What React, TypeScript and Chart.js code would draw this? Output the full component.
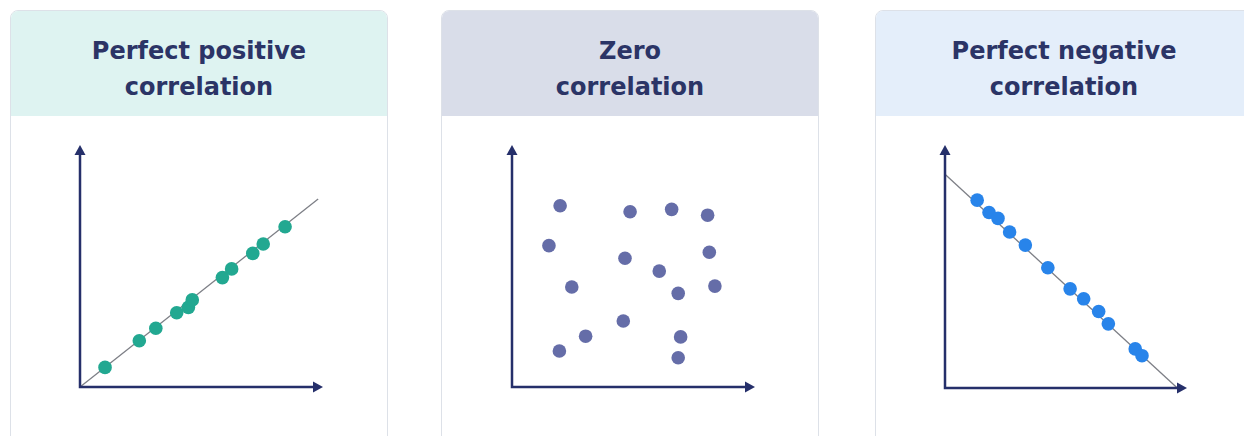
import React, { useEffect, useRef } from "react";
import { Chart, registerables } from "chart.js";
Chart.register(...registerables);

// ---- data (arbitrary units, origin at 0,0; axes run 0..10) ----
const titlesPositive = ["Perfect positive", "correlation"];
const titlesZero = ["Zero", "correlation"];
const titlesNegative = ["Perfect negative", "correlation"];

const positiveX = [1.03, 2.44, 3.12, 3.98, 4.46, 4.62, 5.86, 6.24, 7.11, 7.54, 8.44];
const positiveY = [0.81, 1.91, 2.43, 3.07, 3.29, 3.6, 4.52, 4.88, 5.52, 5.91, 6.62];
const positiveFitX = [0, 9.8];
const positiveFitY = [0, 7.77];

const zeroX = [1.98, 4.86, 6.57, 8.05, 1.52, 4.65, 8.12, 6.06, 2.46, 6.84, 8.35, 4.58, 3.03, 6.94, 1.95, 6.84];
const zeroY = [7.49, 7.24, 7.34, 7.1, 5.84, 5.32, 5.57, 4.79, 4.13, 3.87, 4.17, 2.73, 2.1, 2.07, 1.49, 1.21];

const negativeX = [1.33, 1.82, 2.19, 2.67, 3.32, 4.25, 5.17, 5.73, 6.35, 6.75, 7.86, 8.14];
const negativeY = [7.73, 7.22, 6.98, 6.42, 5.88, 4.95, 4.08, 3.67, 3.15, 2.64, 1.61, 1.33];
const negativeFitX = [0, 9.6];
const negativeFitY = [8.8, 0];

const axisMin = 0;
const axisMax = 10;

// ---- styles ----
const NAVY = "#252f6a";
const TITLE = "#2b3466";
const BORDER = "#dde1e8";

const arrowAxes = {
  id: "arrowAxes",
  afterDatasetsDraw(chart: any) {
    const { ctx, scales } = chart;
    const x = scales.x;
    const y = scales.y;
    const x0 = x.getPixelForValue(axisMin);
    const x1 = x.getPixelForValue(axisMax);
    const y0 = y.getPixelForValue(axisMin);
    const y1 = y.getPixelForValue(axisMax);
    ctx.save();
    ctx.strokeStyle = NAVY;
    ctx.fillStyle = NAVY;
    ctx.lineWidth = 2.5;
    ctx.lineJoin = "miter";
    ctx.lineCap = "butt";
    ctx.beginPath();
    ctx.moveTo(x0, y1 + 8);
    ctx.lineTo(x0, y0);
    ctx.lineTo(x1 - 8, y0);
    ctx.stroke();
    // y arrow head
    ctx.beginPath();
    ctx.moveTo(x0, y1);
    ctx.lineTo(x0 - 5.5, y1 + 10);
    ctx.lineTo(x0 + 5.5, y1 + 10);
    ctx.closePath();
    ctx.fill();
    // x arrow head
    ctx.beginPath();
    ctx.moveTo(x1, y0);
    ctx.lineTo(x1 - 10, y0 - 5.5);
    ctx.lineTo(x1 - 10, y0 + 5.5);
    ctx.closePath();
    ctx.fill();
    ctx.restore();
  },
};

type PanelProps = {
  left: number;
  width: number;
  headerBg: string;
  title: string[];
  xs: number[];
  ys: number[];
  color: string;
  fitX?: number[];
  fitY?: number[];
  canvasLeft: number;
  canvasTop: number;
  pad: { left: number; top: number; right: number; bottom: number };
};

function ScatterPanel(p: PanelProps) {
  const ref = useRef<HTMLCanvasElement>(null);
  useEffect(() => {
    if (!ref.current) return;
    const datasets: any[] = [
      {
        type: "scatter",
        data: p.xs.map((x, i) => ({ x, y: p.ys[i] })),
        pointRadius: 6.8,
        pointHoverRadius: 6.8,
        backgroundColor: p.color,
        borderWidth: 0,
        clip: false,
        order: 1,
      },
    ];
    if (p.fitX && p.fitY) {
      datasets.push({
        type: "scatter",
        showLine: true,
        data: p.fitX.map((x, i) => ({ x, y: p.fitY![i] })),
        borderColor: "#7d7f86",
        borderWidth: 1.3,
        pointRadius: 0,
        clip: false,
        order: 2,
      });
    }
    const chart = new Chart(ref.current, {
      type: "scatter",
      data: { datasets },
      options: {
        responsive: false,
        maintainAspectRatio: false,
        animation: false,
        events: [],
        layout: { padding: p.pad },
        plugins: { legend: { display: false }, tooltip: { enabled: false } },
        scales: {
          x: { type: "linear", min: axisMin, max: axisMax, display: false },
          y: { type: "linear", min: axisMin, max: axisMax, display: false },
        },
      },
      plugins: [arrowAxes],
    } as any);
    return () => chart.destroy();
  }, []);

  return (
    <>
      <div
        style={{
          position: "absolute",
          left: p.left,
          top: 10,
          width: p.width,
          height: 460,
          border: `1px solid ${BORDER}`,
          borderRadius: 8,
          overflow: "hidden",
          background: "#ffffff",
          boxSizing: "border-box",
        }}
      >
        <div
          style={{
            height: 105,
            background: p.headerBg,
            display: "flex",
            flexDirection: "column",
            alignItems: "center",
            justifyContent: "flex-start",
            paddingTop: 22,
            boxSizing: "border-box",
            fontFamily: "'DejaVu Sans', sans-serif",
            fontWeight: 700,
            fontSize: 24,
            lineHeight: "36px",
            color: TITLE,
          }}
        >
          {p.title.map((t, i) => (
            <div key={i}>{t}</div>
          ))}
        </div>
      </div>
      <canvas
        ref={ref}
        width={290}
        height={290}
        style={{ position: "absolute", left: p.canvasLeft, top: p.canvasTop, width: 290, height: 290 }}
      />
    </>
  );
}

export default function App() {
  return (
    <div
      style={{
        position: "absolute",
        left: 0,
        top: 0,
        width: 1244,
        height: 436,
        overflow: "hidden",
        background: "#ffffff",
      }}
    >
      <ScatterPanel
        left={10}
        width={378}
        headerBg="#def3f1"
        title={titlesPositive}
        xs={positiveX}
        ys={positiveY}
        color="#22a891"
        fitX={positiveFitX}
        fitY={positiveFitY}
        canvasLeft={60}
        canvasTop={125}
        pad={{ left: 20, top: 20, right: 27, bottom: 28 }}
      />
      <ScatterPanel
        left={441}
        width={378}
        headerBg="#d9dde9"
        title={titlesZero}
        xs={zeroX}
        ys={zeroY}
        color="#656da8"
        canvasLeft={492}
        canvasTop={125}
        pad={{ left: 20, top: 20, right: 27, bottom: 28 }}
      />
      <ScatterPanel
        left={875}
        width={378}
        headerBg="#e4eefa"
        title={titlesNegative}
        xs={negativeX}
        ys={negativeY}
        color="#2884ea"
        fitX={negativeFitX}
        fitY={negativeFitY}
        canvasLeft={925}
        canvasTop={125}
        pad={{ left: 20, top: 20, right: 28, bottom: 27 }}
      />
    </div>
  );
}
